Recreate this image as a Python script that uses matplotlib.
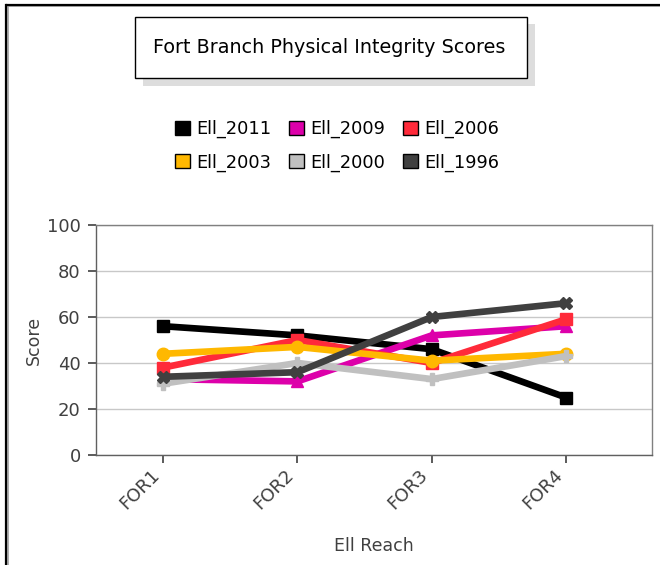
import matplotlib
matplotlib.use("Agg")
import matplotlib.pyplot as plt
from matplotlib.patches import Rectangle, Patch
from matplotlib.lines import Line2D

plt.rcParams['font.family'] = ['DejaVu Sans']

categories = ["FOR1", "FOR2", "FOR3", "FOR4"]
series_names = ["Ell_2011", "Ell_2009", "Ell_2006", "Ell_2003", "Ell_2000", "Ell_1996"]
ell_2011 = [56, 52, 46, 25]
ell_2009 = [33, 32, 52, 56]
ell_2006 = [38, 50, 40, 59]
ell_2003 = [44, 47, 41, 44]
ell_2000 = [31, 40, 33, 43]
ell_1996 = [34, 36, 60, 66]
yticks = [0, 20, 40, 60, 80, 100]

series = [ell_2011, ell_2009, ell_2006, ell_2003, ell_2000, ell_1996]
colors = ["#000000", "#DD00AA", "#FF2A3A", "#FFB800", "#C0C0C0", "#404040"]
markers = ["s", "^", "s", "o", "P", "X"]

W, H = 660, 565
fig = plt.figure(figsize=(W / 100, H / 100), dpi=100)
fig.patch.set_facecolor("white")

def fx(px):
    return px / W

def fy(py):
    return 1 - py / H

# outer frame (left and top edges)
fig.add_artist(Line2D([fx(8), fx(660)], [fy(6), fy(6)], color="#A0A0A0", lw=1.2, transform=fig.transFigure))
fig.add_artist(Line2D([fx(8), fx(8)], [fy(6), fy(565)], color="#A0A0A0", lw=1.2, transform=fig.transFigure))
fig.add_artist(Line2D([fx(7), fx(660)], [fy(4.5), fy(4.5)], color="black", lw=1.6, transform=fig.transFigure))
fig.add_artist(Line2D([fx(6.5), fx(6.5)], [fy(4.5), fy(565)], color="black", lw=1.6, transform=fig.transFigure))

# title box with shadow
fig.add_artist(Rectangle((fx(143), fy(86)), fx(535) - fx(143), fy(24) - fy(86),
                         transform=fig.transFigure, facecolor="#DDDDDD", edgecolor="none"))
fig.add_artist(Rectangle((fx(135), fy(78)), fx(527) - fx(135), fy(17) - fy(78),
                         transform=fig.transFigure, facecolor="white", edgecolor="black", lw=1.0))
fig.text(fx(329), fy(47.5), "Fort Branch Physical Integrity Scores", ha="center", va="center",
         fontsize=13.8, color="#000000")

ax = fig.add_axes([fx(96), fy(455), fx(652) - fx(96), fy(225) - fy(455)])
x = list(range(len(categories)))
for name, vals, c, m in zip(series_names, series, colors, markers):
    ax.plot(x, vals, color=c, lw=4.8, marker=m, markersize=9, markeredgecolor=c,
            markerfacecolor=c, label=name, solid_capstyle="butt")

ax.set_xlim(-0.5, 3.64)
ax.set_ylim(0, 100)
ax.set_yticks(yticks)
ax.set_xticks(x)
ax.set_xticklabels(categories, rotation=45, ha="right", va="top", rotation_mode="default")
ax.grid(axis="y", color="#C8C8C8", lw=1.0)
ax.set_axisbelow(True)
for s in ax.spines.values():
    s.set_color("#808080")
    s.set_linewidth(1.0)
ax.spines["left"].set_color("#606060")
ax.spines["bottom"].set_color("#606060")
ax.tick_params(axis="both", colors="#404040", labelcolor="#404040", labelsize=13, length=6, width=1.2)
ax.tick_params(axis="x", pad=2)
ax.tick_params(axis="y", pad=5)
ax.set_ylabel("Score", fontsize=12.5, color="#404040", labelpad=3)
ax.set_xlabel("Ell Reach", fontsize=12.5, color="#404040", labelpad=17)

# legend, row-major order via column-major fill
order = [0, 3, 1, 4, 2, 5]
handles = [Patch(facecolor=colors[i], edgecolor="black", lw=1.0) for i in order]
labels = [series_names[i] for i in order]
fig.legend(handles, labels, ncol=3, loc="center", bbox_to_anchor=(fx(337), fy(146)),
           frameon=False, fontsize=12.8, handlelength=0.85, handleheight=0.85,
           handletextpad=0.35, columnspacing=1.0, labelspacing=0.85)

fig.savefig("out.png", dpi=100, facecolor="white")
